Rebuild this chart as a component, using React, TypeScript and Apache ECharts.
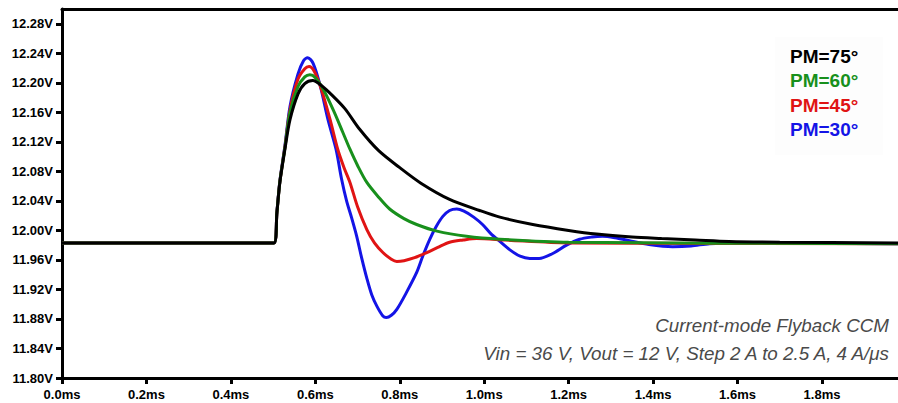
import React, { useEffect, useRef } from "react";
import * as echarts from "echarts";

// time (ms), voltage (V) pairs
const pm75: [number, number][] = [
  [0, 11.983], [0.46, 11.983], [0.502, 11.983], [0.509, 12.024], [0.516, 12.065], [0.528, 12.11], [0.54, 12.15], [0.559, 12.185],
  [0.575, 12.199], [0.594, 12.203], [0.615, 12.196], [0.64, 12.183], [0.67, 12.165], [0.705, 12.137],
  [0.75, 12.108], [0.8, 12.085], [0.85, 12.064], [0.918, 12.042], [0.989, 12.027], [1.037, 12.018],
  [1.115, 12.008], [1.2, 12.0], [1.266, 11.995], [1.35, 11.991], [1.42, 11.989], [1.5, 11.987],
  [1.58, 11.985], [1.7, 11.984], [1.98, 11.983],
];
const pm60: [number, number][] = [
  [0, 11.983], [0.46, 11.983], [0.502, 11.983], [0.509, 12.024], [0.516, 12.066], [0.528, 12.112], [0.54, 12.16], [0.559, 12.195],
  [0.575, 12.208], [0.587, 12.211], [0.6, 12.207], [0.62, 12.19], [0.645, 12.16], [0.665, 12.133],
  [0.682, 12.11], [0.7, 12.088], [0.722, 12.065], [0.75, 12.045], [0.776, 12.029], [0.81, 12.016],
  [0.84, 12.008], [0.888, 11.999], [0.958, 11.992], [1.037, 11.988], [1.2, 11.984], [1.98, 11.982],
];
const pm45: [number, number][] = [
  [0, 11.983], [0.46, 11.983], [0.502, 11.983], [0.509, 12.024], [0.516, 12.066], [0.528, 12.113], [0.54, 12.163], [0.559, 12.205],
  [0.575, 12.219], [0.585, 12.222], [0.598, 12.215], [0.615, 12.19], [0.635, 12.15], [0.653, 12.11],
  [0.668, 12.085], [0.682, 12.065], [0.7, 12.032], [0.722, 12.001], [0.74, 11.983], [0.76, 11.97],
  [0.78, 11.961], [0.793, 11.958], [0.81, 11.959], [0.835, 11.963], [0.864, 11.97], [0.89, 11.977],
  [0.918, 11.984], [0.95, 11.987], [0.982, 11.989], [1.05, 11.987], [1.2, 11.983], [1.98, 11.982],
];
const pm30: [number, number][] = [
  [0, 11.983], [0.46, 11.983], [0.502, 11.983], [0.509, 12.025], [0.516, 12.067], [0.528, 12.115], [0.54, 12.168], [0.559, 12.212],
  [0.572, 12.23], [0.582, 12.234], [0.595, 12.226], [0.612, 12.195], [0.63, 12.15], [0.649, 12.11],
  [0.662, 12.07], [0.674, 12.04], [0.686, 12.017], [0.698, 11.992], [0.71, 11.962], [0.722, 11.935],
  [0.734, 11.912], [0.746, 11.897], [0.76, 11.884], [0.768, 11.882], [0.78, 11.885], [0.793, 11.893], [0.815, 11.915],
  [0.84, 11.943], [0.855, 11.966], [0.871, 11.988], [0.886, 12.005], [0.902, 12.019], [0.918, 12.027],
  [0.935, 12.029], [0.952, 12.026], [0.975, 12.018], [0.996, 12.008], [1.015, 11.996], [1.037, 11.985],
  [1.06, 11.974], [1.085, 11.965], [1.108, 11.962], [1.13, 11.962], [1.16, 11.968], [1.195, 11.98],
  [1.226, 11.988], [1.255, 11.991], [1.28, 11.992], [1.31, 11.99], [1.344, 11.986], [1.39, 11.981],
  [1.446, 11.978], [1.49, 11.979], [1.534, 11.982], [1.6, 11.983], [1.98, 11.982],
];

const seriesNames = ["PM=30°", "PM=45°", "PM=60°", "PM=75°"];
const seriesColors = ["#1414e6", "#e01414", "#18901c", "#000000"];
const seriesData = [pm30, pm45, pm60, pm75];
const legendOrder = [3, 2, 1, 0];
const annotationLines = ["Current-mode Flyback CCM", "Vin = 36 V, Vout = 12 V, Step 2 A to 2.5 A, 4 A/μs"];

const xMin = 0, xMax = 1.98, xStep = 0.2;
const yMin = 11.8, yMax = 12.3, yStep = 0.04;

export default function App() {
  const ref = useRef<HTMLDivElement>(null);
  useEffect(() => {
    if (!ref.current) return;
    const chart = echarts.init(ref.current, undefined, { renderer: "svg" });
    const axisFont = { fontFamily: "Liberation Sans, Arial, sans-serif", fontWeight: "bold" as const, fontSize: 13, color: "#000" };
    chart.setOption({
      animation: false,
      backgroundColor: "#fff",
      grid: { left: 62, top: 9, right: 0, bottom: 25 },
      xAxis: [
        {
          type: "value", min: xMin, max: xMax, interval: xStep,
          axisLine: { lineStyle: { color: "#000", width: 3 } },
          axisTick: { show: true, length: 6, lineStyle: { color: "#000", width: 3 } },
          axisLabel: { ...axisFont, margin: 10, showMaxLabel: false, formatter: (v: number) => v.toFixed(1) + "ms" },
          splitLine: { show: false },
        },
        {
          type: "value", position: "top", min: xMin, max: xMax,
          axisLine: { show: true, lineStyle: { color: "#000", width: 3 } },
          axisTick: { show: false }, axisLabel: { show: false }, splitLine: { show: false },
        },
      ],
      yAxis: {
        type: "value", min: yMin, max: yMax, interval: yStep,
        axisLine: { show: true, lineStyle: { color: "#000", width: 3 } },
        axisTick: { show: true, length: 6, lineStyle: { color: "#000", width: 3 } },
        axisLabel: { ...axisFont, margin: 9, showMaxLabel: false, formatter: (v: number) => v.toFixed(2) + "V" },
        splitLine: { show: false },
      },
      series: seriesData.map((d, i) => ({
        name: seriesNames[i],
        type: "line",
        data: d,
        smooth: 0.3,
        showSymbol: false,
        symbol: "none",
        lineStyle: { color: seriesColors[i], width: 3 },
        itemStyle: { color: seriesColors[i] },
        z: 2 + i,
      })),
      graphic: [
        { type: "rect", shape: { x: 775, y: 37, width: 108, height: 118 }, style: { fill: "#fdfdfd" }, z: 10 },
        ...legendOrder.map((idx, k) => ({
          type: "text", x: 790, y: 56 + k * 24.5, z: 11,
          style: {
            text: seriesNames[idx], fill: seriesColors[idx], font: "bold 19px 'Liberation Sans', Arial, sans-serif",
            textVerticalAlign: "middle", verticalAlign: "middle",
          },
        })),
        ...annotationLines.map((t, k) => ({
          type: "text", x: 889, y: 325 + k * 28, z: 11,
          style: {
            text: t, fill: "#4a4a4a", font: "italic 18.8px 'Liberation Sans', Arial, sans-serif",
            textAlign: "right", align: "right", textVerticalAlign: "middle", verticalAlign: "middle",
          },
        })),
      ],
    });
    return () => chart.dispose();
  }, []);
  return <div ref={ref} style={{ position: "fixed", left: 0, top: 0, width: 898, height: 403 }} />;
}
